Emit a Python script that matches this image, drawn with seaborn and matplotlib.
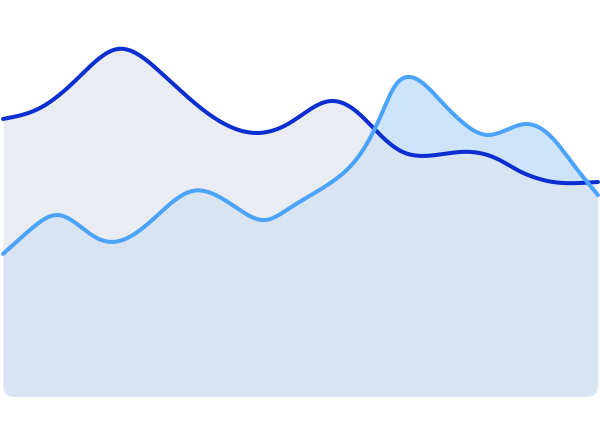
import numpy as np
import pandas as pd
import matplotlib
matplotlib.use("Agg")
import matplotlib.pyplot as plt
import seaborn as sns
from matplotlib.patches import FancyBboxPatch
from matplotlib.transforms import IdentityTransform

# ---- data ----
dark_t = [0, 6.2, 12.6, 19.3, 26.4, 35.3, 42.9, 48.2, 55.0, 59.5, 63.4, 67.2, 70.6,
          76.8, 80.2, 83.5, 86.4, 89.1, 92.4, 96.5, 100]
dark_v = [99.3, 103.2, 113.9, 124.3, 116.1, 100.0, 94.3, 97.9, 105.7, 101.8, 93.6, 87.5, 86.1,
          87.5, 87.1, 84.6, 81.1, 78.6, 76.8, 76.4, 76.8]

light_t = [0, 4.5, 9.2, 15.5, 18.5, 24.7, 31.9, 39.8, 44.0, 48.2, 55.0, 60.5, 63.4,
           65.7, 68.4, 73.4, 76.8, 81.3, 88.1, 93.1, 95.3, 100]
light_v = [51.1, 59.6, 65.0, 57.1, 55.4, 62.5, 73.6, 66.8, 63.2, 67.5, 76.4, 88.2, 100.0,
           110.5, 114.3, 106.1, 98.9, 93.6, 97.5, 90.7, 84.6, 72.1]


def natural_spline(x, y, xs):
    """Natural cubic spline rendering through the given points."""
    x = np.asarray(x, float); y = np.asarray(y, float)
    n = len(x); h = np.diff(x)
    A = np.zeros((n, n)); b = np.zeros(n)
    A[0, 0] = A[-1, -1] = 1
    for i in range(1, n - 1):
        A[i, i - 1] = h[i - 1]; A[i, i] = 2 * (h[i - 1] + h[i]); A[i, i + 1] = h[i]
        b[i] = 3 * ((y[i + 1] - y[i]) / h[i] - (y[i] - y[i - 1]) / h[i - 1])
    c = np.linalg.solve(A, b)
    bb = (y[1:] - y[:-1]) / h - h * (2 * c[:-1] + c[1:]) / 3
    dd = (c[1:] - c[:-1]) / (3 * h)
    idx = np.clip(np.searchsorted(x, xs) - 1, 0, n - 2)
    dx = xs - x[idx]
    return y[idx] + bb[idx] * dx + c[idx] * dx**2 + dd[idx] * dx**3


grid = np.linspace(0, 100, 1200)
dark_s = natural_spline(dark_t, dark_v, grid)
light_s = natural_spline(light_t, light_v, grid)
df = pd.DataFrame({"t": np.concatenate([grid, grid]),
                   "v": np.concatenate([dark_s, light_s]),
                   "series": ["dark"] * len(grid) + ["light"] * len(grid)})

sns.set_theme(style="white")
fig = plt.figure(figsize=(6, 4.45), dpi=100)
ax = fig.add_axes([0, 0, 1, 1])
ax.set_xlim(-0.504, 100.34)
ax.set_ylim(-17.14, 141.79)
ax.axis("off")

clip = FancyBboxPatch((3, 48), 595, 500, boxstyle="round,pad=0,rounding_size=12",
                      transform=IdentityTransform(), facecolor="none", edgecolor="none")

c1 = ax.fill_between(grid, 0, light_s, color="#CDE4FB", linewidth=0, zorder=1)
c2 = ax.fill_between(grid, 0, dark_s, color=(222/255, 229/255, 238/255), alpha=0.66,
                     linewidth=0, zorder=2)
for c in (c1, c2):
    c.set_clip_path(clip)

sns.lineplot(data=df, x="t", y="v", hue="series",
             palette={"dark": "#0A2ECF", "light": "#4BA3FA"},
             linewidth=2.9, legend=False, ax=ax, zorder=3, sort=False)
for ln in ax.lines:
    ln.set_solid_capstyle("round")
    ln.set_clip_on(False)

fig.savefig("out.png", dpi=100, facecolor="white")
